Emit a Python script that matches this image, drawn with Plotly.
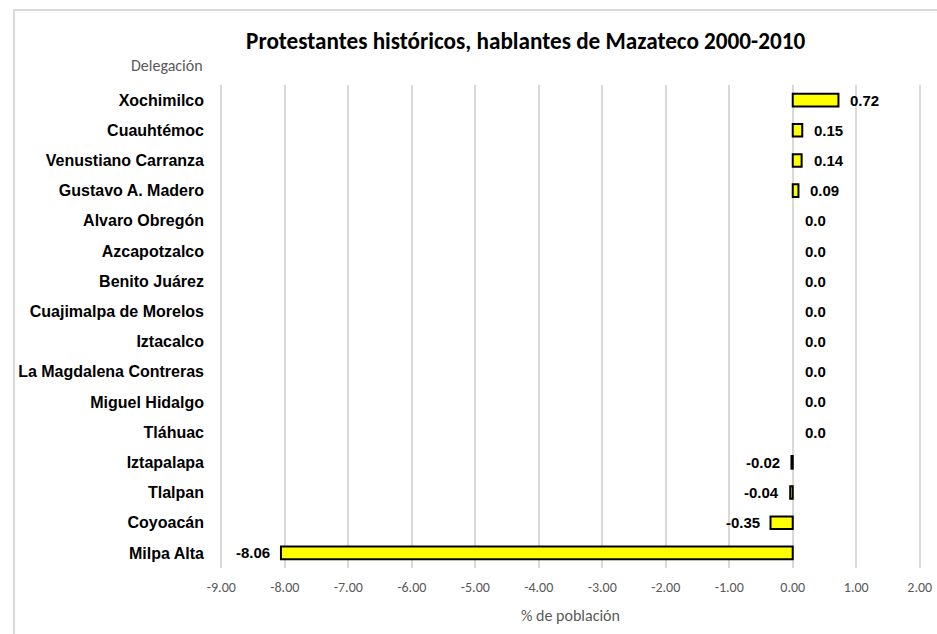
import plotly.graph_objects as go

categories = ["Xochimilco", "Cuauhtémoc", "Venustiano Carranza", "Gustavo A. Madero",
              "Alvaro Obregón", "Azcapotzalco", "Benito Juárez", "Cuajimalpa de Morelos",
              "Iztacalco", "La Magdalena Contreras", "Miguel Hidalgo", "Tláhuac",
              "Iztapalapa", "Tlalpan", "Coyoacán", "Milpa Alta"]
values = [0.72, 0.15, 0.14, 0.09, 0.0, 0.0, 0.0, 0.0, 0.0, 0.0, 0.0, 0.0,
          -0.02, -0.04, -0.35, -8.06]
value_labels = ["0.72", "0.15", "0.14", "0.09", "0.0", "0.0", "0.0", "0.0", "0.0",
                "0.0", "0.0", "0.0", "-0.02", "-0.04", "-0.35", "-8.06"]
x_ticks = [-9, -8, -7, -6, -5, -4, -3, -2, -1, 0, 1, 2]
x_tick_labels = [f"{v:.2f}" for v in x_ticks]

arial = "Liberation Sans, Arial, sans-serif"
calibri = "Carlito, Calibri, Lato, sans-serif"

fig = go.Figure()
fig.add_trace(go.Bar(
    y=categories, x=values, orientation="h",
    marker=dict(color="#FFFF00",
                line=dict(color="#000000", width=[0 if v == 0 else 2 for v in values])),
    width=0.42, hoverinfo="skip",
))

annotations = []
for cat, v, lab in zip(categories, values, value_labels):
    neg = v < 0
    annotations.append(dict(
        x=v, y=cat, xref="x", yref="y", text=lab, showarrow=False,
        xanchor="right" if neg else "left", yanchor="middle",
        xshift=-9 if neg else 10,
        font=dict(family=arial, size=15, color="#000000", weight="bold")))

annotations.append(dict(text="Delegación", xref="paper", yref="paper",
                        x=-0.0214, y=1.0414, xanchor="right", yanchor="middle",
                        showarrow=False,
                        font=dict(family=calibri, size=16, color="#595959")))

fig.update_layout(
    width=937, height=634,
    paper_bgcolor="white", plot_bgcolor="white",
    margin=dict(l=220, r=16, t=85, b=66),
    showlegend=False,
    title=dict(text="<b>Protestantes históricos, hablantes de Mazateco 2000-2010</b>",
               x=0.561, xanchor="center", y=0.936, yanchor="middle",
               font=dict(family=calibri, size=23.2, color="#000000")),
    xaxis=dict(range=[-9.02, 2.02], tickvals=x_ticks, ticktext=x_tick_labels,
               automargin=False,
               showgrid=True, gridcolor="#d9d9d9", gridwidth=2,
               zeroline=False, showline=False, ticks="",
               ticklabelstandoff=9,
               tickfont=dict(family=calibri, size=14, color="#595959"),
               title=dict(text="% de población", standoff=14,
                          font=dict(family=calibri, size=16, color="#595959"))),
    yaxis=dict(categoryorder="array", categoryarray=categories[::-1],
               automargin=False,
               showgrid=False, zeroline=False, showline=False, ticks="",
               ticklabelstandoff=15,
               tickfont=dict(family=arial, size=16, color="#000000", weight="bold")),
    shapes=[dict(type="rect", xref="paper", yref="paper",
                 x0=-0.2939, x1=1.05, y0=-0.2, y1=1.1553,
                 line=dict(color="#d9d9d9", width=2), fillcolor="rgba(0,0,0,0)")],
    annotations=annotations,
)

fig.write_html("out.html", config={"displayModeBar": False},
               post_script="document.body.style.margin='0';document.body.style.overflow='hidden';")
